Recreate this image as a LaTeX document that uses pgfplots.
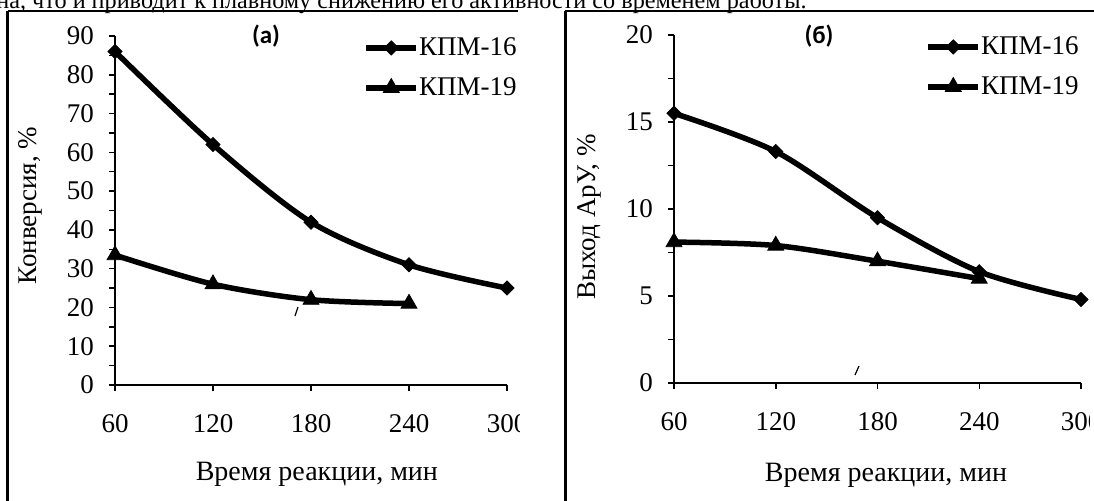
\documentclass[border=0pt]{standalone}
\usepackage{fontspec}
\setmainfont{Liberation Serif}
\newfontfamily\calibri{Carlito}
\usepackage{pgfplots}
\pgfplotsset{compat=1.18}

\pgfplotsset{
  panel/.style={
    scale only axis,
    clip=false,
    axis x line=bottom, axis y line=left,
    axis line style={-, line width=0.75pt},
    xmin=60, xmax=300,
    xtick={60,120,180,240,300},
    tick align=outside,
    tick style={black, line width=0.75pt},
    major tick length=3pt, minor tick length=3pt,
    minor y tick num=1,
    font=\fontsize{13.5}{16}\selectfont,
    /pgf/number format/assume math mode=true,
    xticklabel style={yshift=-8pt},
    yticklabel style={xshift=-4pt},
    xlabel style={font=\fontsize{14}{16}\selectfont},
    legend cell align=left,
    legend style={draw=none, fill=none, inner sep=0pt, row sep=9.5pt,
      anchor=north west, nodes={inner sep=0pt},
      font=\fontsize{13.5}{16}\selectfont},
    legend image code/.code={
      \draw[##1, mark repeat=2, mark phase=2]
        plot coordinates {(0pt,0pt) (12.5pt,0pt) (25pt,0pt)};},
  },
  k16/.style={black, line width=2.75pt, smooth, mark=square*,
    mark options={rotate=45, line width=0.4pt, mark size=2.5pt}},
  k19/.style={black, line width=2.75pt, smooth, mark=triangle*,
    mark options={line width=0.4pt, mark size=4.6pt}},
}

\begin{document}
\begin{tikzpicture}

% (a) conversion
\begin{axis}[panel,
  at={(57.5pt,-192.5pt)}, anchor=origin,
  width=196pt, height=174.5pt,
  ymin=0, ymax=90, ytick={0,10,...,90},
  ylabel={Конверсия, \%},
  ylabel style={at={(axis description cs:-0.201,0.514)}, anchor=base, rotate=0},
  xlabel={Время реакции, мин},
  xlabel style={at={(axis description cs:0.515,-0.275)}, anchor=base},
  legend style={at={(axis description cs:0.633,0.997)}},
]
\addplot[k16] coordinates {(60,86) (120,62) (180,42) (240,31) (300,25)};
\addlegendentry{КПМ-16}
\addplot[k19] coordinates {(60,33.5) (120,26) (180,22) (240,21)};
\addlegendentry{КПМ-19}
\end{axis}

% (b) yield
\begin{axis}[panel,
  at={(337pt,-191.5pt)}, anchor=origin,
  width=203.5pt, height=174pt,
  ymin=0, ymax=20, ytick={0,5,...,20},
  ylabel={Выход АрУ, \%},
  ylabel style={at={(axis description cs:-0.194,0.477)}, anchor=base, rotate=0},
  xlabel={Время реакции, мин},
  xlabel style={at={(axis description cs:0.521,-0.282)}, anchor=base},
  legend style={at={(axis description cs:0.617,0.997)}},
]
\addplot[k16] coordinates {(60,15.5) (120,13.3) (180,9.5) (240,6.4) (300,4.8)};
\addlegendentry{КПМ-16}
\addplot[k19] coordinates {(60,8.1) (120,7.9) (180,7.0) (240,6.0)};
\addlegendentry{КПМ-19}
\end{axis}

\begin{scope}[x=0.5pt, y=-0.5pt]
  % panel titles
  \node[font=\calibri\bfseries\fontsize{12.5}{14}\selectfont] at (266,36) {(a)};
  \node[font=\calibri\bfseries\fontsize{12.5}{14}\selectfont] at (819,36) {(б)};
  % scan specks
  \draw[line width=0.6pt] (295,316) -- (298,307);
  \draw[line width=0.6pt] (855,375) -- (859,366);
  % clipped chart areas
  \fill[white] (520,14) rectangle (562,500);
  \fill[white] (1090,14) rectangle (1110,500);
  % frames
  \draw[line width=1pt] (7.5,11) -- (518,11);
  \draw[line width=1.5pt] (7.5,11) -- (7.5,505);
  \draw[line width=1pt] (565,11) -- (1100,11);
  \draw[line width=1.5pt] (565,11) -- (565,505);
  % running text of the page above
  \node[anchor=base west, inner sep=0pt, font=\fontsize{12.1}{14}\selectfont]
    at (-4,8) {на, что и приводит к плавному снижению его активности со временем работы.};
  \pgfresetboundingbox
  \path[use as bounding box] (0,0) rectangle (1094,500);
\end{scope}
\end{tikzpicture}
\end{document}
